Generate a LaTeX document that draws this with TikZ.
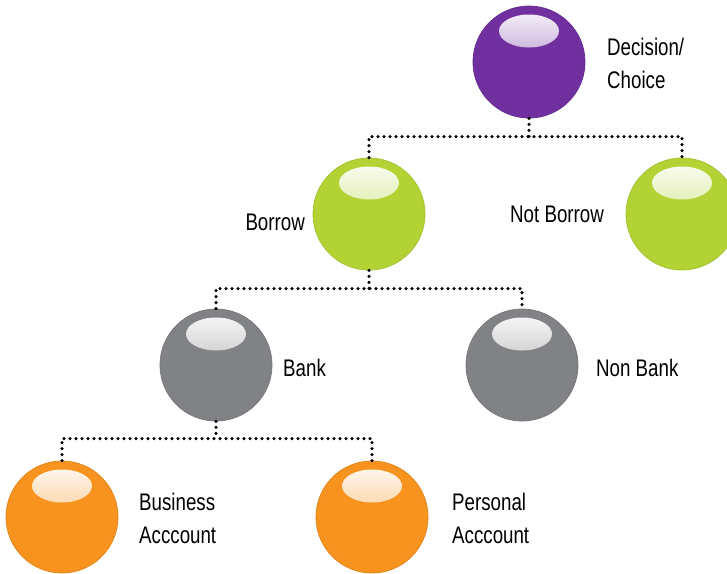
\documentclass[tikz,border=0pt]{standalone}
\usepackage{fontspec}
\setmainfont{Liberation Sans}[FakeStretch=0.78]
\usetikzlibrary{calc}
\definecolor{cpurple}{HTML}{7030A0}
\definecolor{cgreen}{HTML}{B3D335}
\definecolor{cgray}{HTML}{808285}
\definecolor{corange}{HTML}{F7931E}
\begin{document}
\begin{tikzpicture}[x=1pt,y=-1pt,
  ball/.style={circle, minimum size=112pt, inner sep=0pt, fill=#1, draw=#1!92!black, line width=0.8pt,
    path picture={\shade[top color=white!97!#1, middle color=white!55!#1, bottom color=#1!85!white, draw=none]
      ($(path picture bounding box.center)+(0,-31)$) ellipse (30 and 16.5);}},
  lbl/.style={font=\fontsize{24}{33}\selectfont, inner sep=0pt, align=left},
  conn/.style={line width=3.5pt, dash pattern=on 0pt off 6pt, line cap=round}]
\useasboundingbox (0,0) rectangle (727,573);
\clip (0,0) rectangle (727,573);
% balls
\node[ball=cpurple] (dc) at (529,62) {};
\node[ball=cgreen]  (gl) at (369,214) {};
\node[ball=cgreen]  (gr) at (682,214) {};
\node[ball=cgray]   (bl) at (216,365) {};
\node[ball=cgray]   (br) at (522,365) {};
\node[ball=corange] (ol) at (62,517) {};
\node[ball=corange] (or) at (372,517) {};
% labels (base = baseline of last line)
\node[lbl, anchor=base west] (tdc) at (607,88) {Decision/\\Choice};
\node[lbl, anchor=base east] (tgl) at (305,230) {Borrow};
\node[lbl, anchor=base west] (tgr) at (510,222) {Not Borrow};
\node[lbl, anchor=base west] (tbl) at (283,376) {Bank};
\node[lbl, anchor=base west] (tbr) at (596,376) {Non Bank};
\node[lbl, anchor=base west] (tol) at (139,543) {Business\\Acccount};
\node[lbl, anchor=base west] (tor) at (452,543) {Personal\\Acccount};
% connectors
\draw[conn] (gl.north) -- ++(0,-21) coordinate (b1) -| (gr.north);
\draw[conn] (dc.south) -- (dc.south |- b1);
\draw[conn] (bl.north) -- ++(0,-20) coordinate (b2) -| (br.north);
\draw[conn] (gl.south) -- (gl.south |- b2);
\draw[conn] (ol.north) -- ++(0,-22) coordinate (b3) -| (or.north);
\draw[conn] (bl.south) -- (bl.south |- b3);
\end{tikzpicture}
\end{document}
